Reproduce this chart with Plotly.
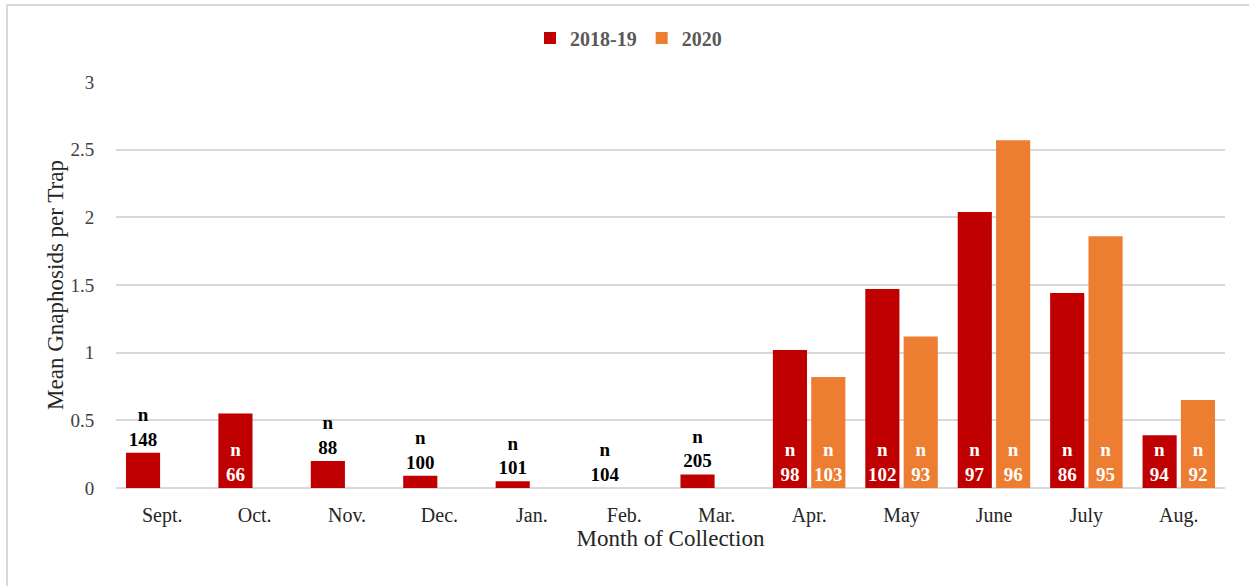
import plotly.graph_objects as go

# Monthly mean gnaphosid catch per trap, with trap counts (n)
months = ["Sept.", "Oct.", "Nov.", "Dec.", "Jan.", "Feb.", "Mar.",
          "Apr.", "May", "June", "July", "Aug."]
mean_2018_19 = [0.26, 0.55, 0.20, 0.09, 0.05, 0.0, 0.10,
                1.02, 1.47, 2.04, 1.44, 0.39]
n_2018_19 = [148, 66, 88, 100, 101, 104, 205, 98, 102, 97, 86, 94]
mean_2020 = [None, None, None, None, None, None, None,
             0.82, 1.12, 2.57, 1.86, 0.65]
n_2020 = [None, None, None, None, None, None, None, 103, 93, 96, 95, 92]

RED = "#c00000"
ORANGE = "#ed7d31"
FONT = "Liberation Serif"
W, H = 1249, 586
M_L, M_R, M_T, M_B = 116, 24, 82, 98

# bars tall enough to hold their label get it inside, at the base
INSIDE_MIN = 0.3


def labels(ns, vals):
    out, pos = [], []
    for n, v in zip(ns, vals):
        if n is None:
            out.append("")
            pos.append("none")
        else:
            out.append(f"n<br>{n}")
            pos.append("inside" if v >= INSIDE_MIN else "outside")
    return out, pos


txt_a, pos_a = labels(n_2018_19, mean_2018_19)
txt_b, pos_b = labels(n_2020, [v if v is not None else 0 for v in mean_2020])

fig = go.Figure()
for name, vals, txt, pos, color in [
    ("2018-19", mean_2018_19, txt_a, pos_a, RED),
    ("2020", mean_2020, txt_b, pos_b, ORANGE),
]:
    fig.add_trace(go.Bar(
        name=name, x=months, y=vals, marker_color=color,
        marker_line_width=0,
        text=txt, textposition=pos, insidetextanchor="start",
        constraintext="none", cliponaxis=False,
        insidetextfont=dict(family=FONT, size=19, color="white", weight="bold"),
        outsidetextfont=dict(family=FONT, size=19, color="black", weight="bold"),
        hoverinfo="skip",
    ))

# light frame around the chart area
pw, ph = W - M_L - M_R, H - M_T - M_B
fig.add_shape(
    type="rect", xref="paper", yref="paper", layer="below",
    x0=(7 - M_L) / pw, x1=(W + 20 - M_L) / pw,
    y0=-(M_B + 20) / ph, y1=(H - M_B - 5) / ph,
    line=dict(color="#d9d9d9", width=2), fillcolor="rgba(0,0,0,0)",
)

fig.update_layout(
    width=W, height=H,
    margin=dict(l=M_L, r=M_R, t=M_T, b=M_B),
    paper_bgcolor="white", plot_bgcolor="white",
    barmode="group", bargap=0.17, bargroupgap=0.11,
    font=dict(family=FONT, color="#595959"),
    legend=dict(
        orientation="h", x=(W / 2 + 4 - M_L) / pw, xanchor="center",
        y=(H - M_B - 38) / ph, yanchor="middle",
        font=dict(family=FONT, size=20, color="#595959", weight="bold"),
        itemwidth=30, tracegroupgap=0,
    ),
    showlegend=True,
)
fig.update_xaxes(
    showgrid=False, showline=False, ticks="", ticklabelstandoff=13,
    tickfont=dict(family=FONT, size=20, color="#262626"),
    title=dict(text="Month of Collection", standoff=0,
               font=dict(family=FONT, size=23, color="#262626")),
)
fig.update_yaxes(
    range=[0, 3], dtick=0.5, tick0=0, tickformat="~g",
    showgrid=True, gridcolor="#d9d9d9", gridwidth=2,
    zeroline=True, zerolinecolor="#d9d9d9", zerolinewidth=2,
    showline=False, ticks="outside", ticklen=17,
    tickcolor="rgba(0,0,0,0)",
    tickfont=dict(family=FONT, size=19, color="#404040"),
    title=dict(text="Mean Gnaphosids per Trap", standoff=0,
               font=dict(family=FONT, size=23, color="#262626")),
)

fig.write_html("out.html")
